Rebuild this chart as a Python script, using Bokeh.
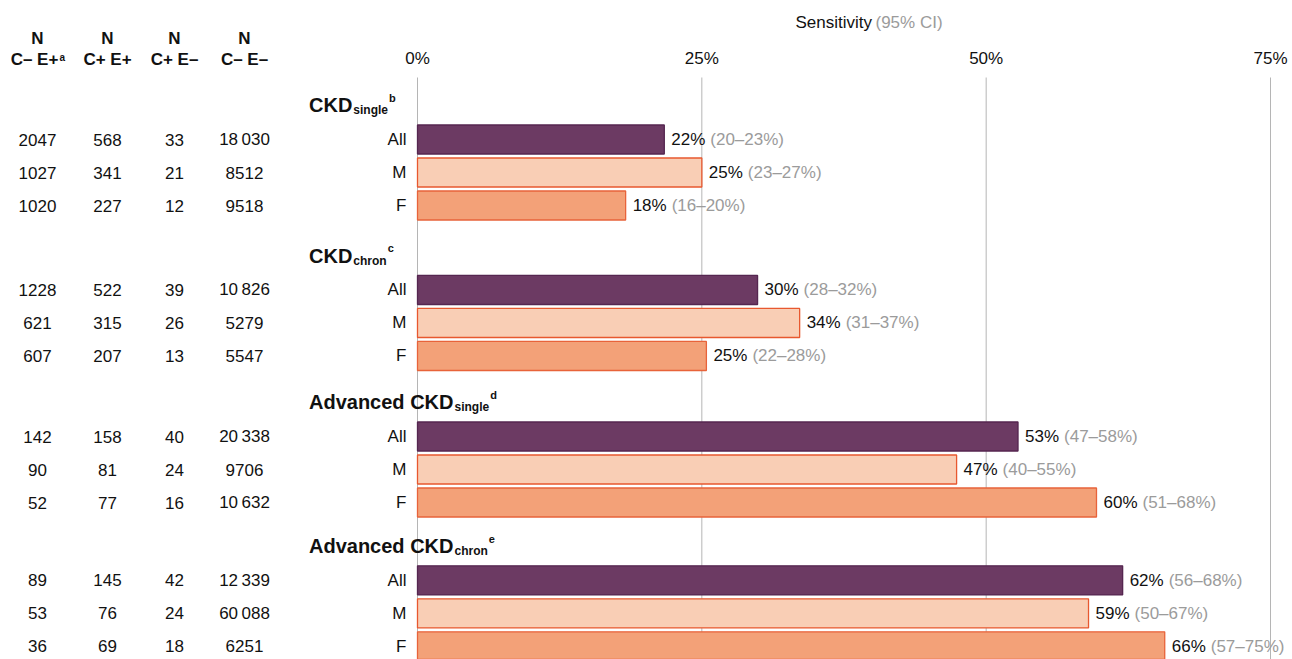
from bokeh.plotting import figure
from bokeh.models import Range1d, ColumnDataSource
from bokeh.core.properties import value
from bokeh.embed import file_html
from bokeh.resources import INLINE

# ---------------- data ----------------
group_main = ["CKD", "CKD", "Advanced CKD", "Advanced CKD"]
group_sub = ["single", "chron", "single", "chron"]
group_sup = ["b", "c", "d", "e"]
sexes = ["All", "M", "F"]

sensitivity = [21.7, 25.0, 18.3, 29.9, 33.6, 25.4, 52.8, 47.4, 59.7, 62.0, 59.0, 65.7]
ci_low = [20, 23, 16, 28, 31, 22, 47, 40, 51, 56, 50, 57]
ci_high = [23, 27, 20, 32, 37, 28, 58, 55, 68, 68, 67, 75]

n_cneg_epos = [2047, 1027, 1020, 1228, 621, 607, 142, 90, 52, 89, 53, 36]
n_cpos_epos = [568, 341, 227, 522, 315, 207, 158, 81, 77, 145, 76, 69]
n_cpos_eneg = [33, 21, 12, 39, 26, 13, 40, 24, 16, 42, 24, 18]
n_cneg_eneg = [18030, 8512, 9518, 10826, 5279, 5547, 20338, 9706, 10632, 12339, 60088, 6251]
n_headers = ["C\u2013 E+", "C+ E+", "C+ E\u2013", "C\u2013 E\u2013"]
n_header_sup = ["a", "", "", ""]

x_ticks = [0, 25, 50, 75]
x_tick_labels = ["0%", "25%", "50%", "75%"]
title_main = "Sensitivity"
title_ci = "(95% CI)"

# ---------------- layout ----------------
W, H = 1292, 659
X0_PX, X75_PX = 417, 1270
K = (X75_PX - X0_PX) / 75.0
ROW_PX = 33.0
Y0_PX = 139.0
GROUP_POS = [0.0, 4.56, 9.0, 13.36]   # vertical start of each group, in rows


def px2x(px):
    return (px - X0_PX) / K


def py2y(py):
    return (py - Y0_PX) / ROW_PX


FONT = value("Liberation Sans")
BLACK = "#111111"
GRAY = "#9b9b9b"
fills = {"All": "#6c3a63", "M": "#f9ceb5", "F": "#f3a178"}
lines = {"All": "#552650", "M": "#e8582f", "F": "#e8633a"}

BOLD_W = {'A': 0.722, 'd': 0.611, 'v': 0.556, 'a': 0.556, 'n': 0.611, 'c': 0.556,
          'e': 0.556, ' ': 0.278, 'C': 0.722, 'K': 0.722, 'D': 0.722, 's': 0.556,
          'i': 0.278, 'g': 0.611, 'l': 0.278, 'h': 0.611, 'r': 0.389, 'o': 0.611}


def tw(s, size):
    return sum(BOLD_W.get(c, 0.556) for c in s) * size


def fmt_n(v):
    s = str(v)
    if v >= 10000:
        s = s[:-3] + "\u2009" + s[-3:]
    return s


ys, sx, fc, lc = [], [], [], []
for g in range(4):
    for i, s in enumerate(sexes):
        ys.append(GROUP_POS[g] + i)
        sx.append(s)
        fc.append(fills[s])
        lc.append(lines[s])

src = ColumnDataSource(dict(
    y=ys, sex=sx, sens=sensitivity, fill=fc, line=lc,
    lbl=[f"{round(v)}%" for v in sensitivity],
    ci=[f"({a}\u2013{b}%)" for a, b in zip(ci_low, ci_high)],
    n1=[fmt_n(v) for v in n_cneg_epos],
    n2=[fmt_n(v) for v in n_cpos_epos],
    n3=[fmt_n(v) for v in n_cpos_eneg],
    n4=[fmt_n(v) for v in n_cneg_eneg],
))

p = figure(width=W, height=H, output_backend="svg", toolbar_location=None,
           x_range=Range1d(px2x(0), px2x(W)), y_range=Range1d(py2y(H), py2y(0)),
           x_axis_type=None, y_axis_type=None, min_border=0,
           outline_line_color=None, background_fill_color="white")

# grid lines
p.segment(x0=x_ticks, x1=x_ticks, y0=[py2y(77)] * 4, y1=[py2y(H)] * 4,
          line_color="#b5b5b5", line_width=1)

# tick labels
p.text(x=x_ticks, y=[py2y(58)] * 4, text=x_tick_labels, text_align="center",
       text_baseline="middle", text_font=FONT, text_font_size="17px", text_color=BLACK)

# title
p.text(x=[px2x(795)], y=[py2y(22)], text=[title_main], text_align="left",
       text_baseline="middle", text_font=FONT, text_font_size="17px", text_color=BLACK)
p.text(x=[px2x(795)], y=[py2y(22)], text=[title_ci], x_offset=80,
       text_align="left", text_baseline="middle", text_font=FONT,
       text_font_size="17px", text_color=GRAY)

# bars
p.hbar(y="y", left=0, right="sens", height=0.88, fill_color="fill", line_color="line",
       line_width=1.3, source=src)

# value labels
p.text(x="sens", y="y", text="lbl", x_offset=7, text_baseline="middle", text_font=FONT,
       text_font_size="17px", text_color=BLACK, source=src)
p.text(x="sens", y="y", text="ci", x_offset=46, text_baseline="middle", text_font=FONT,
       text_font_size="17px", text_color=GRAY, source=src)

# row labels
p.text(x=px2x(406), y="y", text="sex", text_align="right", text_baseline="middle",
       text_font=FONT, text_font_size="17px", text_color=BLACK, source=src)

# N columns
col_px = [37, 107, 174, 244]
for cx, field in zip(col_px, ["n1", "n2", "n3", "n4"]):
    p.text(x=px2x(cx), y="y", text=field, text_align="center", text_baseline="middle",
           text_font=FONT, text_font_size="17px", text_color=BLACK, source=src)

# N headers
p.text(x=[px2x(c) for c in col_px], y=[py2y(38)] * 4, text=["N"] * 4, text_align="center",
       text_baseline="middle", text_font=FONT, text_font_size="17px",
       text_font_style="bold", text_color=BLACK)
hx = [px2x(c) for c in col_px]
hx[0] = px2x(34)
p.text(x=hx, y=[py2y(59)] * 4, text=n_headers, text_align="center",
       text_baseline="middle", text_font=FONT, text_font_size="17px",
       text_font_style="bold", text_color=BLACK)
p.text(x=[px2x(59)], y=[py2y(57)], text=[n_header_sup[0]], text_align="left",
       text_baseline="alphabetic", text_font=FONT, text_font_size="10px",
       text_font_style="bold", text_color=BLACK)

# group headers (main text + subscript + superscript)
SHIFT = 0.18
hsrc = ColumnDataSource(dict(
    main=group_main, sub=group_sub, sup=group_sup,
    y_main=[y - 0.858 - SHIFT for y in GROUP_POS],
    y_sub=[y - 0.70 - SHIFT for y in GROUP_POS],
    y_sup=[y - 1.08 - SHIFT for y in GROUP_POS],
    off_sub=[tw(m, 20) + 1 for m in group_main],
    off_sup=[tw(m, 20) + tw(s, 12) + 2 for m, s in zip(group_main, group_sub)],
))
HX = px2x(308.5)
p.text(x=HX, y="y_main", text="main", text_align="left", text_baseline="alphabetic",
       text_font=FONT, text_font_size="20px", text_font_style="bold", text_color=BLACK,
       source=hsrc)
p.text(x=HX, y="y_sub", text="sub", x_offset="off_sub", text_align="left",
       text_baseline="alphabetic", text_font=FONT, text_font_size="12px",
       text_font_style="bold", text_color=BLACK, source=hsrc)
p.text(x=HX, y="y_sup", text="sup", x_offset="off_sup", text_align="left",
       text_baseline="alphabetic", text_font=FONT, text_font_size="11px",
       text_font_style="bold", text_color=BLACK, source=hsrc)

open("out.html", "w").write(file_html(p, INLINE))
